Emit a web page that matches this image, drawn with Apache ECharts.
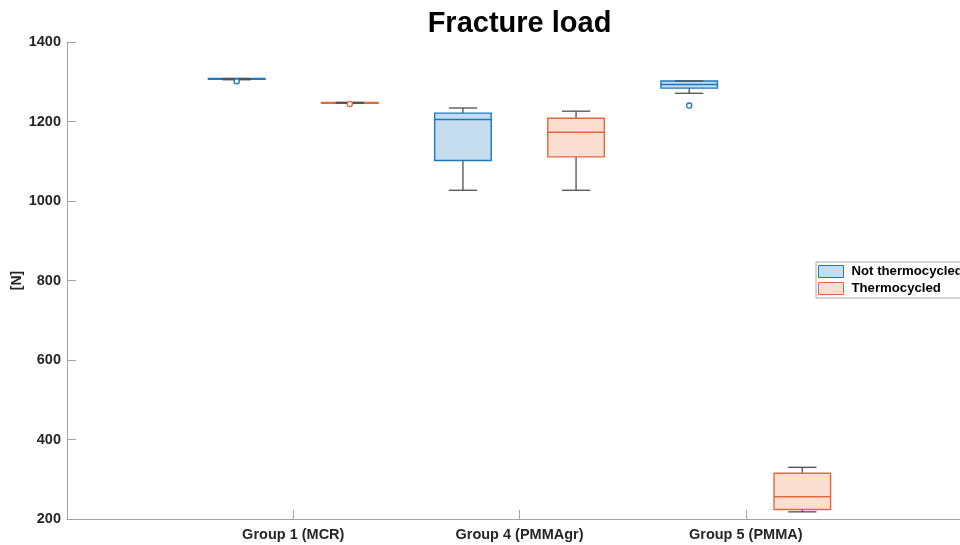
<!DOCTYPE html>
<html>
<head>
<meta charset="utf-8">
<script src="https://cdn.jsdelivr.net/npm/echarts@6/dist/echarts.min.js"></script>
<style>html,body{margin:0;padding:0;background:#fff;}#chart{width:960px;height:545px;}</style>
</head>
<body>
<div id="chart"></div>
<script>
// ---- data ----
const categories = ['Group 1 (MCR)', 'Group 4 (PMMAgr)', 'Group 5 (PMMA)'];
const seriesNames = ['Not thermocycled', 'Thermocycled'];
// each row: [min, Q1, median, Q3, max]
const notThermocycled = [
  [1305, 1306, 1307, 1308, 1308],
  [1027, 1102, 1205, 1221, 1234],
  [1271, 1284, 1293, 1302, 1302]
];
const thermocycled = [
  [1246, 1246, 1247, 1248, 1248],
  [1027, 1111, 1173, 1208, 1226],
  [218, 224, 256, 315, 330]
];
// outliers: [group index, value]
const notThermocycledOutliers = [[0, 1301], [2, 1240]];
const thermocycledOutliers = [[0, 1244]];
const yMin = 200, yMax = 1400, yStep = 200;

// ---- styles ----
const FONT = 'Liberation Sans, Arial, Helvetica, sans-serif';
const edgeColors = ['#1a78c2', '#e0693a'];
const fillColors = ['#c6ddf0', '#fcdfd2'];
const whiskerColor = '#4f4f4f';
const axisColor = '#a3a3a3';
const textColor = '#262626';
const offsets = [-0.25, 0.25];   // fraction of category spacing
const boxFrac = 0.25;            // box width as fraction of spacing
const capFrac = 0.125;           // whisker cap width

const xCats = [''].concat(categories, ['']);

function boxRender(k) {
  return function (params, api) {
    const x = api.value(0);
    const p0 = api.coord([0, yMin]);
    const p1 = api.coord([1, yMin]);
    const sp = p1[0] - p0[0];
    const cx = api.coord([x, yMin])[0] + offsets[k] * sp;
    const yv = i => api.coord([x, api.value(i)])[1];
    const yMinP = yv(1), yQ1 = yv(2), yMed = yv(3), yQ3 = yv(4), yMaxP = yv(5);
    const w = boxFrac * sp, cw = capFrac * sp;
    const lineW = { stroke: whiskerColor, lineWidth: 1.3 };
    return {
      type: 'group',
      children: [
        { type: 'line', shape: { x1: cx, y1: yQ3, x2: cx, y2: yMaxP }, style: lineW },
        { type: 'line', shape: { x1: cx, y1: yQ1, x2: cx, y2: yMinP }, style: lineW },
        { type: 'rect', shape: { x: cx - w / 2, y: yQ3, width: w, height: Math.max(yQ1 - yQ3, 0.5) },
          style: { fill: fillColors[k], stroke: edgeColors[k], lineWidth: 1.4 } },
        { type: 'line', shape: { x1: cx - w / 2, y1: yMed, x2: cx + w / 2, y2: yMed },
          style: { stroke: edgeColors[k], lineWidth: 1.4 } },
        { type: 'line', shape: { x1: cx - cw / 2, y1: yMaxP, x2: cx + cw / 2, y2: yMaxP }, style: lineW },
        { type: 'line', shape: { x1: cx - cw / 2, y1: yMinP, x2: cx + cw / 2, y2: yMinP }, style: lineW }
      ]
    };
  };
}

function outlierRender(k) {
  return function (params, api) {
    const x = api.value(0);
    const sp = api.coord([1, yMin])[0] - api.coord([0, yMin])[0];
    const p = api.coord([x, api.value(1)]);
    return {
      type: 'circle',
      shape: { cx: p[0] + offsets[k] * sp, cy: p[1], r: 2.6 },
      style: { fill: '#fff', stroke: edgeColors[k], lineWidth: 1.3 }
    };
  };
}

const boxSets = [notThermocycled, thermocycled];
const outSets = [notThermocycledOutliers, thermocycledOutliers];
const series = [];
boxSets.forEach((set, k) => {
  series.push({
    type: 'custom',
    name: seriesNames[k],
    renderItem: boxRender(k),
    itemStyle: { color: fillColors[k], borderColor: edgeColors[k] },
    encode: { x: 0, y: [1, 2, 3, 4, 5] },
    data: set.map((r, i) => [i + 1].concat(r)),
    clip: false,
    z: 2
  });
});
outSets.forEach((set, k) => {
  series.push({
    type: 'custom',
    name: seriesNames[k] + ' outliers',
    renderItem: outlierRender(k),
    encode: { x: 0, y: 1 },
    data: set.map(r => [r[0] + 1, r[1]]),
    clip: false,
    z: 3
  });
});

const chart = echarts.init(document.getElementById('chart'), null, { renderer: 'canvas' });
chart.setOption({
  animation: false,
  backgroundColor: '#ffffff',
  textStyle: { fontFamily: FONT },
  title: {
    text: 'Fracture load',
    left: 514.5,
    top: 4,
    textAlign: 'center',
    textStyle: { fontFamily: FONT, fontSize: 29, fontWeight: 'bold', color: '#000' }
  },
  legend: {
    orient: 'vertical',
    left: 816,
    top: 262,
    padding: [3, 40, 3, 2],
    itemGap: 4,
    itemWidth: 25,
    itemHeight: 12,
    backgroundColor: '#fff',
    borderColor: '#a8a8a8',
    borderWidth: 1,
    textStyle: { fontFamily: FONT, fontSize: 13.2, fontWeight: 'bold', color: '#000', padding: [0, 0, 0, 3] },
    data: seriesNames.map((n, k) => ({
      name: n, icon: 'rect',
      itemStyle: { color: fillColors[k], borderColor: edgeColors[k], borderWidth: 1 }
    }))
  },
  grid: { left: 67, top: 42, bottom: 26, right: -12, containLabel: false, outerBoundsMode: 'none' },
  xAxis: {
    type: 'category',
    data: xCats,
    boundaryGap: false,
    axisLine: { lineStyle: { color: axisColor, width: 1 } },
    axisTick: { inside: true, length: 9, lineStyle: { color: axisColor },
      interval: (i) => i > 0 && i < xCats.length - 1 },
    axisLabel: { fontFamily: FONT, fontSize: 14.5, fontWeight: 'bold', color: textColor, margin: 8,
      interval: 0 },
    splitLine: { show: false }
  },
  yAxis: {
    type: 'value',
    min: yMin, max: yMax, interval: yStep,
    name: '[N]',
    nameLocation: 'middle',
    nameRotate: 90,
    nameGap: 43,
    nameMoveOverlap: false,
    nameTextStyle: { fontFamily: FONT, fontSize: 14, fontWeight: 'bold', color: textColor },
    axisLine: { show: true, lineStyle: { color: axisColor, width: 1 } },
    axisTick: { show: true, inside: true, length: 9, lineStyle: { color: axisColor } },
    axisLabel: { fontFamily: FONT, fontSize: 14.5, fontWeight: 'bold', color: textColor, margin: 6,
      formatter: v => String(v) },
    splitLine: { show: false }
  },
  series: series
});
</script>
</body>
</html>
